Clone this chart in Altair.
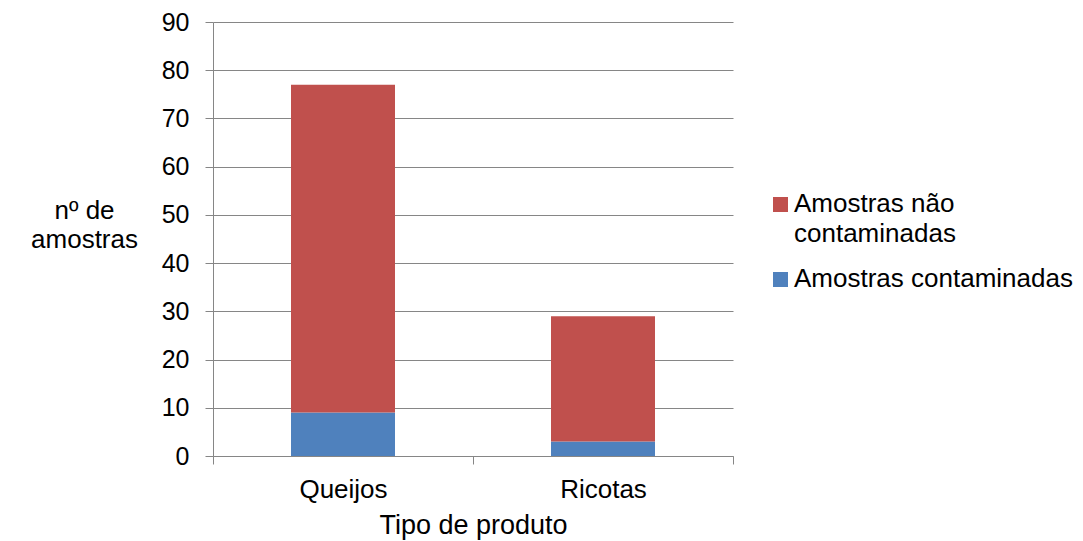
import altair as alt
import pandas as pd

# Sample counts per product type
produtos = ["Queijos", "Ricotas"]
contaminadas = [9, 3]
nao_contaminadas = [68, 26]

series = ["Amostras não contaminadas", "Amostras contaminadas"]
series_labels = ["Amostras não\ncontaminadas", "Amostras contaminadas"]
series_colors = ["#C0504D", "#4F81BD"]
stack_order = {"Amostras contaminadas": 0, "Amostras não contaminadas": 1}

rows = []
for p, c, n in zip(produtos, contaminadas, nao_contaminadas):
    rows.append({"produto": p, "serie": "Amostras contaminadas", "valor": c})
    rows.append({"produto": p, "serie": "Amostras não contaminadas", "valor": n})
df = pd.DataFrame(rows)
df["ordem"] = df["serie"].map(stack_order)

FONT = "Liberation Sans"
GRAY = "#868686"
TXT = 26

bars = alt.Chart(df).mark_bar(width=alt.RelativeBandSize(0.4)).encode(
    x=alt.X(
        "produto:N",
        sort=produtos,
        scale=alt.Scale(paddingInner=0, paddingOuter=0),
        axis=alt.Axis(
            title="Tipo de produto",
            labelAngle=0,
            tickBand="extent",
            tickSize=8,
            tickColor=GRAY,
            domainColor=GRAY,
            labelFontSize=TXT,
            labelFont=FONT,
            labelColor="#000000",
            labelBaseline="alphabetic",
            labelPadding=33,
            titleFont=FONT,
            titleFontSize=27,
            titleFontWeight="normal",
            titleColor="#000000",
            titleBaseline="alphabetic",
            titleY=77,
        ),
    ),
    y=alt.Y(
        "valor:Q",
        stack="zero",
        scale=alt.Scale(domain=[0, 90], nice=False),
        axis=alt.Axis(
            title=["nº de", "amostras"],
            values=list(range(0, 91, 10)),
            grid=True,
            gridColor=GRAY,
            gridWidth=1,
            tickSize=8,
            tickColor=GRAY,
            domainColor=GRAY,
            labelFontSize=25,
            labelFont=FONT,
            labelColor="#000000",
            labelPadding=16,
            titleFont=FONT,
            titleFontSize=TXT,
            titleFontWeight="normal",
            titleColor="#000000",
            titleAngle=0,
            titleAlign="center",
            titleBaseline="alphabetic",
            titleLineHeight=29,
            titleX=-129,
            titleY=196,
        ),
    ),
    color=alt.Color(
        "serie:N",
        scale=alt.Scale(domain=series, range=series_colors),
        legend=None,
    ),
    order=alt.Order("ordem:Q"),
)

# Legend drawn as square swatches with labels to the right of the plot
legend_layers = []
legend_rows = [(182.5, 190), (257.5, 265)]
for (sy, ty), name, label, col in zip(legend_rows, series, series_labels, series_colors):
    ldf = pd.DataFrame({"serie": [name], "label": [label]})
    sq = alt.Chart(ldf).mark_square(size=225, color=col, opacity=1).encode(
        x=alt.value(567.5), y=alt.value(sy)
    )
    tx = alt.Chart(ldf).mark_text(
        align="left",
        baseline="alphabetic",
        fontSize=TXT,
        font=FONT,
        color="#000000",
        lineBreak="\n",
        lineHeight=30,
    ).encode(x=alt.value(581), y=alt.value(ty), text="label:N")
    legend_layers += [sq, tx]

chart = alt.layer(bars, *legend_layers).properties(
    width=520,
    height=434,
    autosize=alt.AutoSizeParams(type="none"),
    padding={"left": 213, "top": 22, "right": 350, "bottom": 85},
    background="#ffffff",
).configure_view(stroke=None)

chart.save("out.html", embed_options={"renderer": "svg", "actions": False})
